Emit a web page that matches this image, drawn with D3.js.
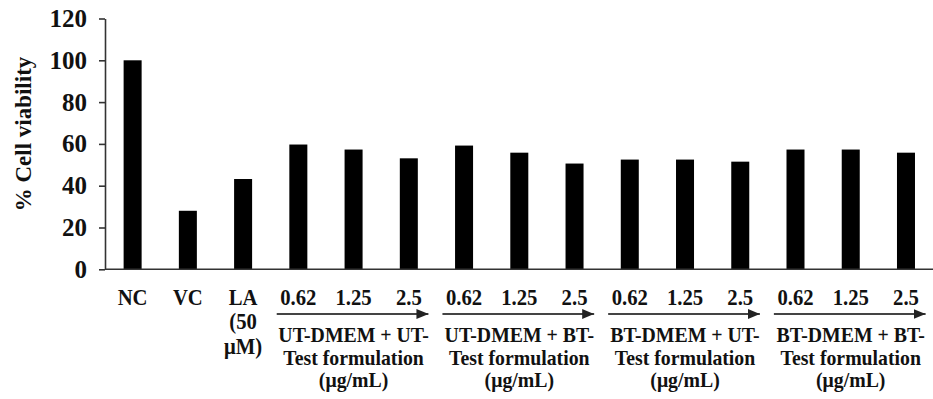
<!DOCTYPE html>
<html>
<head>
<meta charset="utf-8">
<script src="https://cdn.jsdelivr.net/npm/d3@7"></script>
<style>
  body { margin: 0; background: #fff; }
  text { font-family: "Liberation Serif", "Times New Roman", serif; font-weight: bold; fill: #111; }
</style>
</head>
<body>
<svg id="chart" width="933" height="399"></svg>
<script>
// values
const labels = ['NC', 'VC', 'LA', '0.62', '1.25', '2.5', '0.62', '1.25', '2.5',
                '0.62', '1.25', '2.5', '0.62', '1.25', '2.5'];
const values = [100, 28, 43.2, 59.7, 57.3, 53.1, 59.2, 55.8, 50.6,
                 52.5, 52.5, 51.5, 57.3, 57.3, 55.8];
const laExtra = ['(50', 'μM)'];
const groupLabels = [
    ['UT-DMEM + UT-', 'Test formulation', '(μg/mL)'],
    ['UT-DMEM + BT-', 'Test formulation', '(μg/mL)'],
    ['BT-DMEM + UT-', 'Test formulation', '(μg/mL)'],
    ['BT-DMEM + BT-', 'Test formulation', '(μg/mL)']
];
const groupStart = [3, 6, 9, 12];
const yTicks = [0, 20, 40, 60, 80, 100, 120];

const svg = d3.select('#chart');
const axisColor = '#333';
const squish = 0.9;

const x = d3.scaleBand()
    .domain(d3.range(labels.length))
    .range([105, 933.6])
    .paddingInner(0.674)
    .paddingOuter(0.337);

const y = d3.scaleLinear()
    .domain([0, 120])
    .range([269.3, 18.5]);

// bars
svg.append('g')
    .selectAll('rect')
    .data(values)
    .join('rect')
    .attr('x', (d, i) => x(i))
    .attr('y', d => y(d))
    .attr('width', x.bandwidth())
    .attr('height', d => y(0) - y(d))
    .attr('fill', '#000');

// y axis
const yAxis = svg.append('g')
    .attr('transform', 'translate(105,0)')
    .call(d3.axisLeft(y).tickValues(yTicks).tickSize(6).tickSizeOuter(0));
yAxis.attr('font-size', null).attr('font-family', null);
yAxis.select('.domain').attr('stroke', axisColor).attr('stroke-width', 1.6);
yAxis.selectAll('.tick line').attr('stroke', axisColor).attr('stroke-width', 1.6);
yAxis.selectAll('.tick text')
    .attr('x', 0)
    .attr('transform', 'translate(-18,0)')
    .style('font-size', '25px')
    .attr('fill', '#111');

// x axis line
svg.append('line')
    .attr('x1', 105).attr('x2', 933)
    .attr('y1', y(0)).attr('y2', y(0))
    .attr('stroke', axisColor)
    .attr('stroke-width', 1.6);

// y title
svg.append('text')
    .attr('transform', 'translate(31,134) rotate(-90)')
    .attr('text-anchor', 'middle')
    .style('font-size', '23px')
    .text('% Cell viability');

// category labels
const cx = i => x(i) + x.bandwidth() / 2;
const putText = (px, py, str, size) => {
    svg.append('text')
        .attr('transform', `translate(${px},${py}) scale(${squish},1)`)
        .attr('text-anchor', 'middle')
        .style('font-size', size + 'px')
        .text(str);
};

labels.forEach((l, i) => putText(cx(i), 305, l, 23));
laExtra.forEach((l, k) => putText(cx(2), 329 + k * 25, l, 23));

// arrows and group labels
const defs = svg.append('defs');
defs.append('marker')
    .attr('id', 'arrow')
    .attr('viewBox', '0 0 12 10')
    .attr('refX', 12).attr('refY', 5)
    .attr('markerWidth', 12).attr('markerHeight', 10)
    .attr('markerUnits', 'userSpaceOnUse')
    .attr('orient', 'auto')
    .append('path')
    .attr('d', 'M0,0 L12,5 L0,10 Z')
    .attr('fill', '#222');

groupStart.forEach((s, g) => {
    const left = x(s) - x.step() * x.paddingInner() / 2;
    const right = x(s + 2) + x.bandwidth() + x.step() * x.paddingInner() / 2;
    svg.append('line')
        .attr('x1', left + 6).attr('x2', right - 8)
        .attr('y1', 314).attr('y2', 314)
        .attr('stroke', '#444')
        .attr('stroke-width', 2)
        .attr('marker-end', 'url(#arrow)');
    groupLabels[g].forEach((l, k) => putText(cx(s + 1), 342 + k * 22.5, l, 22));
});
</script>
</body>
</html>
